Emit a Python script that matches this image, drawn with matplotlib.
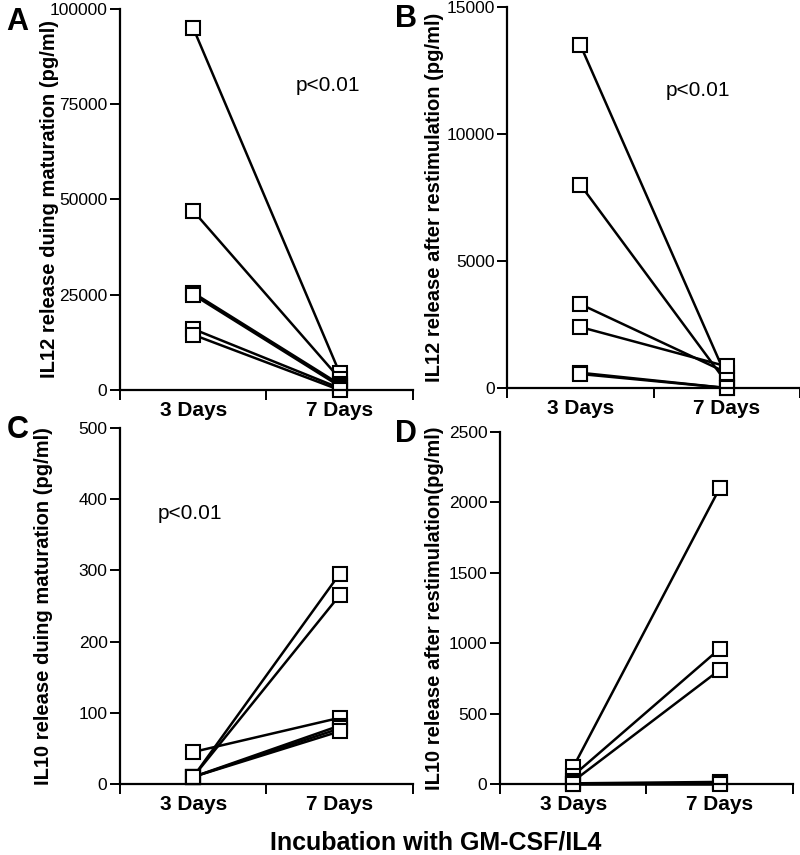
import matplotlib
matplotlib.use('Agg')
import matplotlib.pyplot as plt

plt.rcParams['font.family'] = ['Liberation Sans', 'DejaVu Sans']

days = ['3 Days', '7 Days']

# panel A: IL12 during maturation
a_day3 = [95000, 47000, 25500, 25000, 16000, 14500]
a_day7 = [4500, 3000, 1500, 1000, 500, 0]

# panel B: IL12 after restimulation
b_day3 = [13500, 8000, 3300, 2400, 600, 550]
b_day7 = [400, 200, 600, 850, 0, 0]

# panel C: IL10 during maturation
c_day3 = [45, 10, 10, 10, 10, 10]
c_day7 = [93, 295, 265, 82, 78, 74]

# panel D: IL10 after restimulation
d_day3 = [120, 60, 20, 5, 0, 0]
d_day7 = [2100, 960, 810, 15, 5, 0]

panels = [
    ('A', a_day3, a_day7, 100000, [0, 25000, 50000, 75000, 100000],
     'IL12 release duing maturation (pg/ml)', (1.42, 80000)),
    ('B', b_day3, b_day7, 15000, [0, 5000, 10000, 15000],
     'IL12 release after restimulation (pg/ml)', (1.30, 11700)),
    ('C', c_day3, c_day7, 500, [0, 100, 200, 300, 400, 500],
     'IL10 release duing maturation (pg/ml)', (0.48, 380)),
    ('D', d_day3, d_day7, 2500, [0, 500, 1000, 1500, 2000, 2500],
     'IL10 release after restimulation(pg/ml)', None),
]

rects = [
    [0.150, 0.5439, 0.366, 0.4456],
    [0.634, 0.5462, 0.366, 0.4456],
    [0.150, 0.0830, 0.366, 0.4164],
    [0.625, 0.0830, 0.366, 0.4117],
]
letter_pos = [(0.022, 0.974), (0.508, 0.978), (0.022, 0.497), (0.508, 0.492)]
ylabel_x = [0.062, 0.543, 0.054, 0.543]

fig = plt.figure(figsize=(8, 8.55), dpi=100)

for (letter, d3, d7, ymax, yticks, ylabel, ptxt), rect, lp, ylx in zip(
        panels, rects, letter_pos, ylabel_x):
    ax = fig.add_axes(rect)
    for v3, v7 in zip(d3, d7):
        ax.plot([0.5, 1.5], [v3, v7], '-', color='black', lw=1.8,
                marker='s', markersize=9.5, markerfacecolor='white',
                markeredgecolor='black', markeredgewidth=1.5, clip_on=False)
    ax.set_xlim(0, 2)
    ax.set_ylim(0, ymax)
    ax.set_yticks(yticks)
    ax.set_yticklabels([str(t) for t in yticks])
    ax.set_xticks([0, 1, 2])
    ax.set_xticklabels(['', '', ''])
    ax.set_xticks([0.5, 1.5], minor=True)
    ax.set_xticklabels(days, minor=True, fontsize=15, fontweight='bold')
    ax.tick_params(axis='x', which='minor', length=0, pad=8)
    ax.tick_params(axis='both', which='major', direction='out', length=7,
                   width=1.4, labelsize=12.5, pad=2)
    for s in ['top', 'right']:
        ax.spines[s].set_visible(False)
    for s in ['left', 'bottom']:
        ax.spines[s].set_linewidth(1.6)
    fig.text(ylx, rect[1] + rect[3] / 2, ylabel, rotation=90, ha='center',
             va='center', fontsize=14.5, fontweight='bold')
    fig.text(lp[0], lp[1], letter, ha='center', va='center', fontsize=22,
             fontweight='bold')
    if ptxt is not None:
        ax.text(ptxt[0], ptxt[1], 'p<0.01', ha='center', va='center',
                fontsize=15)

fig.text(0.545, 0.015, 'Incubation with GM-CSF/IL4', ha='center',
         va='center', fontsize=18, fontweight='bold')

fig.savefig('out.png')
print('Save out.png')
